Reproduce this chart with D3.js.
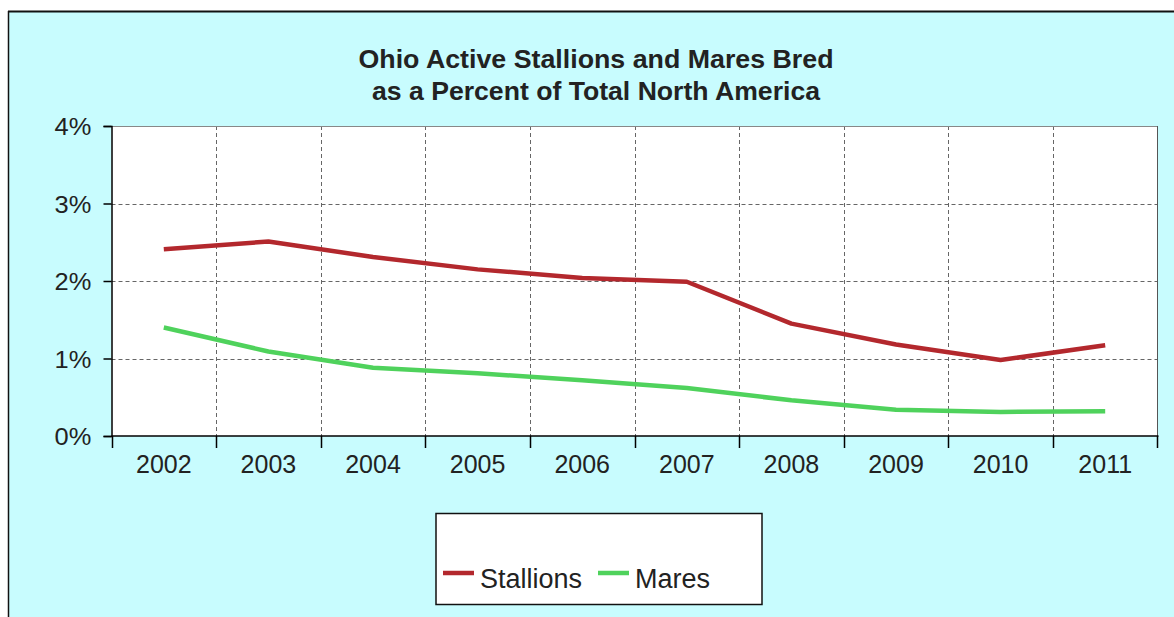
<!DOCTYPE html>
<html><head><meta charset="utf-8">
<script src="https://cdn.jsdelivr.net/npm/d3@7"></script>
<style>body{margin:0;background:#fff}svg{display:block}</style>
</head><body>
<script>
const years = ["2002","2003","2004","2005","2006","2007","2008","2009","2010","2011"];
const stallions = [2.41, 2.51, 2.31, 2.15, 2.04, 1.99, 1.45, 1.18, 0.98, 1.17];
const mares = [1.40, 1.09, 0.88, 0.81, 0.72, 0.62, 0.46, 0.34, 0.31, 0.32];
const yTicks = [0, 1, 2, 3, 4];
const titleLines = ["Ohio Active Stallions and Mares Bred", "as a Percent of Total North America"];
const seriesNames = ["Stallions", "Mares"];
const colors = ["#b3282d", "#4fd25c"];

const FONT = "Arial, 'Liberation Sans', sans-serif";
const W = 1174, H = 617;
const svg = d3.select("body").append("svg").attr("width", W).attr("height", H);
svg.append("rect").attr("x", 8).attr("y", 11).attr("width", W - 8).attr("height", H - 11).attr("fill", "#c8fcfe");
svg.append("line").attr("x1", 8).attr("x2", W).attr("y1", 11.5).attr("y2", 11.5).attr("stroke", "#111").attr("stroke-width", 2);
svg.append("line").attr("x1", 8.5).attr("x2", 8.5).attr("y1", 11).attr("y2", H).attr("stroke", "#111").attr("stroke-width", 1.5);

const L = 111.5, R = 1157.5, T = 126, B = 436;
const x = d3.scaleBand().domain(years).range([L, R]);
const y = d3.scaleLinear().domain([0, 4]).range([B, T]);

svg.append("rect").attr("x", L).attr("y", T).attr("width", R - L).attr("height", B - T).attr("fill", "#fff");

// grid
const g = svg.append("g");
g.selectAll(".hg").data(yTicks.filter(d => d > 0 && d < 4)).join("line")
  .attr("x1", L).attr("x2", R).attr("y1", d => Math.round(y(d)) + 0.5).attr("y2", d => Math.round(y(d)) + 0.5)
  .attr("stroke", "#666").attr("stroke-dasharray", "4,3");
g.selectAll(".vg").data(years.slice(1)).join("line")
  .attr("x1", d => Math.round(x(d)) + 0.5).attr("x2", d => Math.round(x(d)) + 0.5).attr("y1", T).attr("y2", B)
  .attr("stroke", "#666").attr("stroke-dasharray", "4,3");
svg.append("line").attr("x1", L).attr("x2", R).attr("y1", T + 0.5).attr("y2", T + 0.5).attr("stroke", "#888");
svg.append("line").attr("x1", R).attr("x2", R).attr("y1", T).attr("y2", B).attr("stroke", "#555");

// axes
const yAxis = d3.axisLeft(y).tickValues(yTicks).tickFormat(d => d + "%").tickSize(8).tickPadding(11);
const ya = svg.append("g").attr("transform", `translate(${L},0)`).call(yAxis);
ya.select(".domain").attr("stroke", "#000").attr("stroke-width", 1.5);
ya.selectAll(".tick line").attr("stroke", "#000").attr("stroke-width", 1.5);
ya.selectAll("text").attr("font-family", FONT).attr("font-size", 24).attr("fill", "#222")
  .attr("dy", "0.36em").attr("transform", "scale(1.06,1)");

const xAxis = d3.axisBottom(x).tickSize(0).tickPadding(19);
const xa = svg.append("g").attr("transform", `translate(0,${B})`).call(xAxis);
xa.select(".domain").remove();
xa.selectAll("text").attr("font-family", FONT).attr("font-size", 25).attr("fill", "#222");
svg.append("line").attr("x1", L).attr("x2", R + 1).attr("y1", B).attr("y2", B).attr("stroke", "#000").attr("stroke-width", 1.5);
svg.selectAll(".xt").data(years.concat(["end"])).join("line")
  .attr("x1", (d, i) => i < years.length ? Math.round(x(d)) + 0.5 : R)
  .attr("x2", (d, i) => i < years.length ? Math.round(x(d)) + 0.5 : R)
  .attr("y1", B).attr("y2", B + 12).attr("stroke", "#000").attr("stroke-width", 1.5);

// lines
const line = d3.line().x((d, i) => x(years[i]) + x.bandwidth() / 2).y(d => y(d));
[stallions, mares].forEach((s, k) => {
  svg.append("path").attr("d", line(s)).attr("fill", "none").attr("stroke", colors[k])
    .attr("stroke-width", 4.5).attr("stroke-linejoin", "round");
});

// title
const titleW = [475, 448];
svg.selectAll(".title").data(titleLines).join("text")
  .attr("x", (d, i) => 596 - titleW[i] / 2).attr("y", (d, i) => 68 + i * 31.5)
  .attr("textLength", (d, i) => titleW[i]).attr("lengthAdjust", "spacingAndGlyphs")
  .attr("font-family", FONT).attr("font-weight", "bold").attr("font-size", 25).attr("fill", "#222")
  .text(d => d);

// legend
svg.append("rect").attr("x", 436).attr("y", 513.5).attr("width", 326).attr("height", 91).attr("fill", "#fff").attr("stroke", "#111").attr("stroke-width", 1.5);
const lx = [443, 598];
seriesNames.forEach((n, k) => {
  svg.append("line").attr("x1", lx[k]).attr("x2", lx[k] + 31).attr("y1", 573).attr("y2", 573).attr("stroke", colors[k]).attr("stroke-width", 4.5);
  svg.append("text").attr("x", lx[k] + 37).attr("y", 588).attr("font-family", FONT).attr("font-size", 27).attr("fill", "#222").text(n);
});
</script>
</body></html>
